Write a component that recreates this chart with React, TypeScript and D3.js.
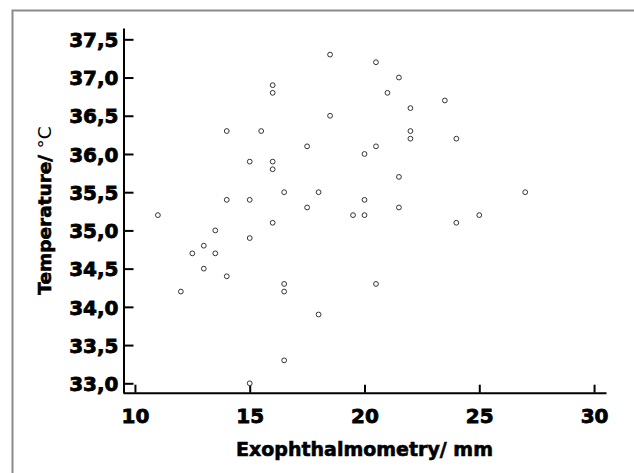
import { axisBottom, axisLeft, formatLocale, scaleLinear, select } from 'd3';
import { useEffect, useRef } from 'react';

// exophthalmometry (mm) vs temperature (°C), one point per eye
const exophthalmometry = [
  18.5, 20.5, 21.5, 16, 16, 21, 23.5, 22, 18.5, 14, 15.5, 22, 22, 24, 17.5, 20.5, 20,
  15, 16, 16, 21.5, 16.5, 18, 27, 14, 15, 20, 17.5, 21.5, 11, 19.5, 20, 25, 16, 24,
  13.5, 15, 13, 12.5, 13.5, 13, 14, 16.5, 20.5, 12, 16.5, 18, 16.5, 15,
];
const temperature = [
  37.3, 37.2, 37.0, 36.9, 36.8, 36.8, 36.7, 36.6, 36.5, 36.3, 36.3, 36.3, 36.2, 36.2, 36.1, 36.1, 36.0,
  35.9, 35.9, 35.8, 35.7, 35.5, 35.5, 35.5, 35.4, 35.4, 35.4, 35.3, 35.3, 35.2, 35.2, 35.2, 35.2, 35.1, 35.1,
  35.0, 34.9, 34.8, 34.7, 34.7, 34.5, 34.4, 34.3, 34.3, 34.2, 34.2, 33.9, 33.3, 33.0,
];
const xTicks = [10, 15, 20, 25, 30];
const yTicks = [33, 33.5, 34, 34.5, 35, 35.5, 36, 36.5, 37, 37.5];
const xTitle = 'Exophthalmometry/ mm';
const yTitle = 'Temperature/ ';
const yUnit = '°C';

const W = 634;
const H = 473;
const FONT = '"DejaVu Sans", sans-serif';

const commaFormat = formatLocale({
  decimal: ',',
  thousands: '.',
  grouping: [3],
  currency: ['', ''],
}).format('.1f');

const App = () => {
  const svgRef = useRef<SVGSVGElement>(null);

  useEffect(() => {
    const svg = select(svgRef.current);
    svg.selectAll('*').remove();

    const x = scaleLinear().domain([9.48, 30.52]).range([123, 606]);
    const y = scaleLinear().domain([32.877, 37.648]).range([392.7, 28]);

    // gray frame (only top and left edges show)
    svg
      .append('path')
      .attr('d', `M12.5,${H}V10.5H${W}`)
      .attr('fill', 'none')
      .attr('stroke', '#8a8a8a')
      .attr('stroke-width', 2);

    // y axis, ticks pointing inward
    const gy = svg
      .append('g')
      .attr('transform', 'translate(123.5,0)')
      .call(
        axisLeft(y)
          .tickValues(yTicks)
          .tickSizeInner(-10)
          .tickSizeOuter(0)
          .tickPadding(5)
          .tickFormat((d) => commaFormat(d as number))
      );
    gy.select('.domain').attr('stroke-width', 2);
    gy.selectAll('line').attr('stroke-width', 2);
    gy.selectAll('text')
      .attr('dy', '0.36em')
      .attr('stroke', 'black')
      .attr('stroke-width', 0.8)
      .style('font-family', FONT)
      .style('font-weight', 'bold')
      .style('font-size', '20px');

    // x axis
    const gx = svg
      .append('g')
      .attr('transform', 'translate(0,392.7)')
      .call(
        axisBottom(x)
          .tickValues(xTicks)
          .tickSizeInner(-8)
          .tickSizeOuter(0)
          .tickPadding(16)
      );
    gx.select('.domain').attr('stroke-width', 2);
    gx.selectAll('line').attr('stroke-width', 2);
    gx.selectAll('text')
      .attr('stroke', 'black')
      .attr('stroke-width', 0.8)
      .style('font-family', FONT)
      .style('font-weight', 'bold')
      .style('font-size', '20px');

    // points
    svg
      .append('g')
      .selectAll('circle')
      .data(exophthalmometry.map((e, i) => ({ e, t: temperature[i] })))
      .enter()
      .append('circle')
      .attr('cx', (d) => x(d.e))
      .attr('cy', (d) => y(d.t))
      .attr('r', 2.4)
      .attr('fill', 'white')
      .attr('stroke', '#333')
      .attr('stroke-width', 1);

    // titles
    svg
      .append('text')
      .attr('x', 364.5)
      .attr('y', 456)
      .attr('text-anchor', 'middle')
      .attr('stroke', 'black')
      .attr('stroke-width', 0.6)
      .style('font-family', FONT)
      .style('font-weight', 'bold')
      .style('font-size', '19px')
      .text(xTitle);

    const yt = svg
      .append('text')
      .attr('transform', 'translate(51,210.5) rotate(-90)')
      .attr('text-anchor', 'middle')
      .style('font-family', FONT)
      .style('font-weight', 'bold')
      .style('font-size', '18.5px');
    yt.append('tspan').attr('stroke', 'black').attr('stroke-width', 0.6).text(yTitle);
    yt.append('tspan').style('font-weight', 'normal').text(yUnit);
  }, []);

  return (
    <svg
      ref={svgRef}
      width={W}
      height={H}
      style={{ position: 'absolute', left: 0, top: 0, background: 'white' }}
    />
  );
};

export default App;
